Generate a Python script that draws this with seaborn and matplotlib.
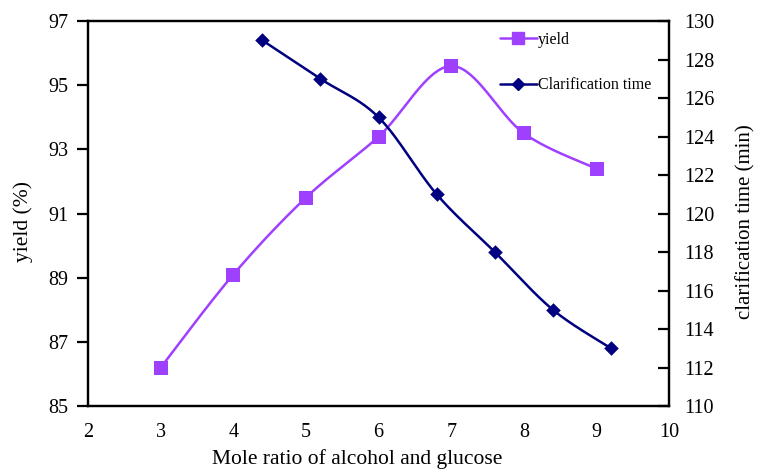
import numpy as np
import pandas as pd
import matplotlib
matplotlib.use("Agg")
import matplotlib.pyplot as plt
from matplotlib.lines import Line2D
import seaborn as sns

# Yield (%) against mole ratio
ratio_yield = [3, 4, 5, 6, 7, 8, 9]
yield_pct = [86.2, 89.1, 91.5, 93.4, 95.6, 93.5, 92.4]

# Clarification time (min), plotted on the secondary axis
ratio_time = [4.4, 5.2, 6.0, 6.8, 7.6, 8.4, 9.2]
clar_time = [129, 127, 125, 121, 118, 115, 113]

x_ticks = [2, 3, 4, 5, 6, 7, 8, 9, 10]
y_left_ticks = [85, 87, 89, 91, 93, 95, 97]
y_right_ticks = list(range(110, 131, 2))

YIELD_COLOR = "#A040FF"
TIME_COLOR = "#000080"


def smooth_curve(x, y, steps=40):
    """Catmull-Rom style cubic Bezier curve through the points (spreadsheet 'smoothed line')."""
    x = np.asarray(x, float)
    y = np.asarray(y, float)
    px = np.concatenate([[x[0]], x, [x[-1]]])
    py = np.concatenate([[y[0]], y, [y[-1]]])
    xs, ys = [], []
    t = np.linspace(0, 1, steps)
    for i in range(1, len(px) - 2):
        p0 = np.array([px[i], py[i]])
        p3 = np.array([px[i + 1], py[i + 1]])
        p1 = p0 + (np.array([px[i + 1], py[i + 1]]) - np.array([px[i - 1], py[i - 1]])) / 6
        p2 = p3 - (np.array([px[i + 2], py[i + 2]]) - np.array([px[i], py[i]])) / 6
        b = ((1 - t) ** 3)[:, None] * p0 + (3 * (1 - t) ** 2 * t)[:, None] * p1 \
            + (3 * (1 - t) * t ** 2)[:, None] * p2 + (t ** 3)[:, None] * p3
        xs.extend(b[:, 0])
        ys.extend(b[:, 1])
    return pd.DataFrame({"x": xs, "y": ys})


sns.set_theme(style="white")
plt.rcParams["font.family"] = ["Liberation Serif", "DejaVu Serif"]
plt.rcParams["text.color"] = "black"
plt.rcParams["axes.labelcolor"] = "black"

fig = plt.figure(figsize=(7.58, 4.69), dpi=100)
ax = fig.add_axes([0.116, 0.134, 0.767, 0.821])
ax2 = ax.twinx()

df_yield = pd.DataFrame({"x": ratio_yield, "y": yield_pct})
df_time = pd.DataFrame({"x": ratio_time, "y": clar_time})

sns.lineplot(data=smooth_curve(ratio_yield, yield_pct), x="x", y="y", ax=ax,
             color=YIELD_COLOR, lw=1.8, sort=False, estimator=None)
sns.scatterplot(data=df_yield, x="x", y="y", ax=ax, marker="s", s=95,
                color=YIELD_COLOR, edgecolor=YIELD_COLOR, linewidth=0, zorder=5)

sns.lineplot(data=smooth_curve(ratio_time, clar_time), x="x", y="y", ax=ax2,
             color=TIME_COLOR, lw=1.8, sort=False, estimator=None)
sns.scatterplot(data=df_time, x="x", y="y", ax=ax2, marker="D", s=55,
                color=TIME_COLOR, edgecolor=TIME_COLOR, linewidth=0, zorder=5)

ax.set_xlim(2, 10)
ax.set_ylim(85, 97)
ax2.set_ylim(110, 130)
ax.set_xticks(x_ticks)
ax.set_yticks(y_left_ticks)
ax2.set_yticks(y_right_ticks)

ax.set_xlabel("Mole ratio of alcohol and glucose", fontsize=15.5)
ax.xaxis.set_label_coords(0.463, -0.112)
ax.set_ylabel("yield (%)", fontsize=15.5)
ax.yaxis.set_label_coords(-0.094, 0.48)
ax2.set_ylabel("clarification time (min)", fontsize=15, rotation=90)
ax2.yaxis.set_label_coords(1.114, 0.48)

for a in (ax, ax2):
    for s in a.spines.values():
        s.set_color("black")
        s.set_linewidth(1.6)

ax.tick_params(axis="x", direction="in", length=6, width=1.6, labelsize=14.5, pad=12, colors="black")
ax.tick_params(axis="y", direction="out", length=8, width=1.6, labelsize=14.5, pad=6, colors="black", left=True)
ax2.tick_params(axis="y", direction="in", length=8, width=1.6, labelsize=14.5, pad=10.5, colors="black", right=True)

handles = [
    Line2D([], [], color=YIELD_COLOR, lw=1.8, marker="s", markersize=8, label="yield"),
    Line2D([], [], color=TIME_COLOR, lw=1.8, marker="D", markersize=6, label="Clarification time"),
]
ax2.legend(handles=handles, loc="upper left", bbox_to_anchor=(0.709, 0.972), frameon=False,
           fontsize=11.5, handlelength=2.3, handletextpad=0.05, labelspacing=1.85,
           borderpad=0, borderaxespad=0)

fig.savefig("out.png", dpi=100)
